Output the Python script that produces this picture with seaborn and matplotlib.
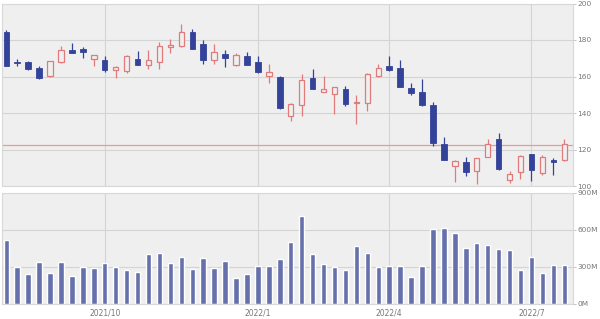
import numpy as np
import pandas as pd
import matplotlib
matplotlib.use("Agg")
import matplotlib.pyplot as plt
import seaborn as sns

# ---- data ----
opens = [184.4, 168.2, 167.9, 164.6, 160.4, 167.9, 174.5, 175.1, 169.6, 169.0,
         163.7, 163.0, 169.7, 166.4, 167.9, 176.2, 176.5, 184.2, 177.8, 169.2,
         172.3, 166.3, 171.4, 168.1, 160.2, 159.7, 138.5, 144.2, 159.4, 151.7,
         150.3, 153.1, 145.7, 145.7, 160.4, 165.5, 164.4, 153.5, 151.7, 144.4,
         122.9, 111.2, 113.4, 108.1, 116.0, 125.5, 103.1, 107.9, 117.4, 107.2,
         114.1, 114.5]
highs = [185.7, 169.6, 168.6, 165.5, 168.6, 176.5, 178.2, 176.0, 171.9, 171.0,
         166.0, 172.0, 173.8, 174.7, 178.7, 180.6, 188.8, 186.2, 180.2, 177.8,
         174.7, 172.7, 173.2, 171.4, 166.8, 160.3, 145.4, 161.5, 164.1, 160.4,
         154.5, 154.9, 149.9, 161.7, 166.8, 171.0, 168.8, 156.4, 158.7, 146.2,
         127.0, 114.0, 116.0, 115.3, 125.5, 129.2, 108.3, 117.0, 117.6, 117.1,
         115.6, 125.5]
lows = [165.5, 165.5, 163.7, 158.7, 160.0, 167.5, 172.8, 170.4, 166.0, 162.7,
        159.1, 162.0, 166.3, 164.1, 164.2, 172.9, 176.0, 175.0, 167.0, 167.0,
        165.0, 165.5, 166.3, 162.0, 156.7, 142.0, 135.8, 138.5, 153.0, 151.5,
        139.5, 143.9, 133.8, 141.1, 160.0, 163.0, 154.0, 149.9, 144.0, 121.8,
        114.0, 102.2, 105.3, 101.3, 115.8, 109.0, 101.7, 104.1, 102.6, 106.3,
        105.9, 113.8]
closes = [166.0, 167.5, 164.2, 159.4, 168.3, 174.7, 173.0, 173.2, 171.7, 163.8,
          165.0, 171.4, 166.4, 169.2, 176.5, 177.1, 184.2, 175.2, 168.8, 173.2,
          170.1, 171.9, 166.4, 162.2, 162.7, 142.6, 144.8, 158.2, 153.1, 153.1,
          154.2, 144.8, 146.2, 161.5, 164.9, 163.3, 154.3, 151.2, 144.2, 123.7,
          114.1, 113.6, 107.4, 115.1, 123.0, 109.4, 106.4, 116.5, 109.0, 116.0,
          113.4, 123.0]
volumes_m = [517, 299, 240, 336, 248, 336, 223, 299, 291, 331,
             299, 277, 258, 401, 409, 328, 377, 285, 369, 291,
             344, 207, 240, 307, 307, 363, 498, 708, 401, 320,
             299, 277, 471, 412, 299, 304, 304, 221, 304, 605,
             611, 570, 452, 495, 476, 444, 436, 272, 382, 253,
             312, 312]
ref_price = 122.6
month_pos = [9, 23, 35, 48]
month_labels = ["2021/10", "2022/1", "2022/4", "2022/7"]
price_ticks = [100, 120, 140, 160, 180, 200]
vol_ticks = [0, 300, 600, 900]
vol_labels = ["0M", "300M", "600M", "900M"]

df = pd.DataFrame({"idx": np.arange(len(opens)), "open": opens, "high": highs,
                   "low": lows, "close": closes, "vol": volumes_m})

# ---- style ----
sns.set_theme(style="white")
plt.rcParams["font.family"] = ["DejaVu Sans"]
BG = "#efefef"
GRID = "#d4d4d4"
BLUE = "#34439a"
RED = "#e07b7b"
REFLINE = "#e89a9a"
VOLC = "#6670aa"
TXT = "#777777"

fig = plt.figure(figsize=(6.0, 3.19), dpi=100)
ax1 = fig.add_axes([2/600, 1-186/319, 571/600, 182.5/319])
ax2 = fig.add_axes([2/600, 1-304/319, 571/600, 111.5/319])

for ax in (ax1, ax2):
    ax.set_facecolor(BG)
    for s in ax.spines.values():
        s.set_color("#d8d8d8")
        s.set_linewidth(0.8)

# ---- candles ----
up = df[df["close"] >= df["open"]]
dn = df[df["close"] < df["open"]]
w = 0.5
ax1.vlines(up["idx"], up["low"], up["high"], color=RED, lw=0.9, zorder=3)
ax1.vlines(dn["idx"], dn["low"], dn["high"], color=BLUE, lw=0.9, zorder=3)
ax1.bar(up["idx"], (up["close"] - up["open"]).clip(lower=0.4), bottom=up["open"],
        width=w, facecolor=BG, edgecolor=RED, linewidth=0.9, zorder=4)
ax1.bar(dn["idx"], dn["open"] - dn["close"], bottom=dn["close"],
        width=w, facecolor=BLUE, edgecolor=BLUE, linewidth=0.6, zorder=4)
ax1.axhline(ref_price, color=REFLINE, lw=0.9, zorder=2)

xlim = (-0.39, 51.8)
ax1.set_xlim(*xlim)
ax1.set_ylim(100, 200)
ax1.set_yticks(price_ticks)
ax1.set_yticklabels([str(t) for t in price_ticks])
ax1.set_xticks(month_pos)
ax1.set_xticklabels([])
ax1.grid(True, color=GRID, lw=0.8, zorder=0)
ax1.set_axisbelow(True)

# ---- volume ----
sns.barplot(data=df, x="idx", y="vol", ax=ax2, color=VOLC, saturation=1,
            width=0.5, zorder=3)
ax2.set_xlim(*xlim)
ax2.set_ylim(0, 900)
ax2.set_yticks(vol_ticks)
ax2.set_yticklabels(vol_labels)
ax2.set_xticks(month_pos)
ax2.set_xticklabels(month_labels)
ax2.set_xlabel("")
ax2.set_ylabel("")
ax2.grid(True, color=GRID, lw=0.8, zorder=0)
ax2.set_axisbelow(True)

for ax in (ax1, ax2):
    ax.yaxis.tick_right()
    ax.tick_params(axis="y", which="both", right=True, left=False, length=2,
                   width=0.6, color="#bbbbbb", labelsize=5.3, labelcolor=TXT, pad=1)
    ax.tick_params(axis="x", bottom=False, length=0, labelsize=5.5, labelcolor=TXT, pad=3)

fig.savefig("out.png", dpi=100, facecolor="white")
